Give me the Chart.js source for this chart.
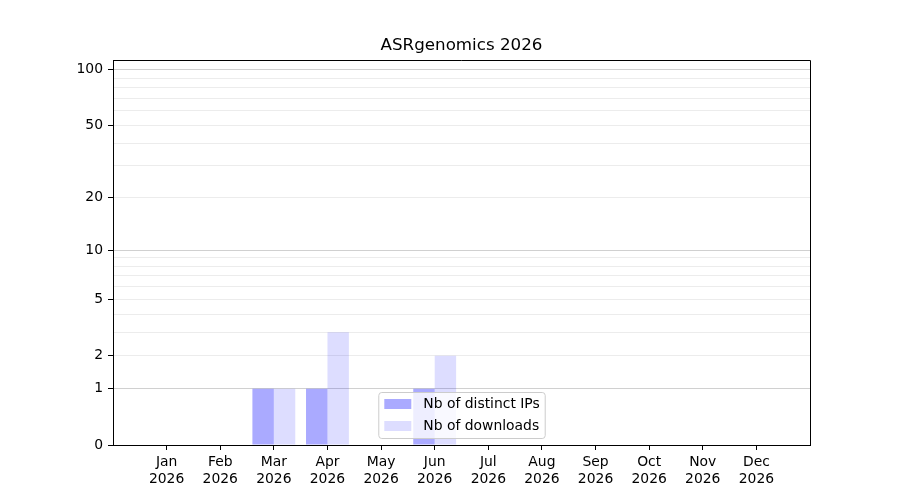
<!DOCTYPE html>
<html>
<head>
<meta charset="utf-8">
<script src="https://cdn.jsdelivr.net/npm/chart.js@4.4.1/dist/chart.umd.min.js"></script>
<style>
  html, body { margin: 0; padding: 0; background: #fff; }
  #wrap { width: 900px; height: 500px; position: relative; }
</style>
</head>
<body>
<div id="wrap"><canvas id="chart"></canvas></div>
<script>
// --- data ---
const months = ["Jan", "Feb", "Mar", "Apr", "May", "Jun", "Jul", "Aug", "Sep", "Oct", "Nov", "Dec"];
const year = "2026";
const distinctIPs = [0, 0, 1, 1, 0, 1, 0, 0, 0, 0, 0, 0];
const downloads   = [0, 0, 1, 3, 0, 2, 0, 0, 0, 0, 0, 0];
const titleText = "ASRgenomics 2026";

// y axis: log(1 + x) scale
const yTicks = [0, 1, 2, 3, 4, 5, 6, 7, 8, 9, 10, 20, 30, 40, 50, 60, 70, 80, 90, 100];
const yLabelled = [0, 1, 2, 5, 10, 20, 50, 100];
const yMajor = [1, 10, 100];
const yMax = 113;

Chart.defaults.font.family = "'DejaVu Sans', sans-serif";
Chart.defaults.color = "#000";

// custom scale so bars go through log10(1 + v)
class Log1pScale extends Chart.LinearScale {
  static id = "log1p";
  static defaults = {};
  buildTicks() {
    return yTicks.map(v => ({ value: v }));
  }
  configure() {
    super.configure();
    this._lo = Math.log10(1 + this.min);
    this._hi = Math.log10(1 + this.max);
  }
  getPixelForValue(value) {
    return this.getPixelForDecimal((Math.log10(1 + value) - this._lo) / (this._hi - this._lo));
  }
  getValueForPixel(pixel) {
    return Math.pow(10, this._lo + this.getDecimalForPixel(pixel) * (this._hi - this._lo)) - 1;
  }
}
Chart.register(Log1pScale);

// empty slot each side so the axis runs one month past Jan and Dec
const labels = ["", ...months.map(m => [m, year]), ""];
const pad = arr => [null, ...arr, null];

// title over the plot, top/right frame, legend inside lower centre
const framePlugin = {
  id: "frameAndLegend",
  afterDraw(chart) {
    const { ctx, chartArea: a } = chart;
    ctx.save();
    ctx.strokeStyle = "#000";
    ctx.lineWidth = 1;
    ctx.beginPath();
    ctx.moveTo(a.left, a.top + 0.5);
    ctx.lineTo(a.right + 0.5, a.top + 0.5);
    ctx.lineTo(a.right + 0.5, a.bottom);
    ctx.stroke();

    ctx.fillStyle = "#000";
    ctx.font = "16.7px 'DejaVu Sans'";
    ctx.textAlign = "center";
    ctx.textBaseline = "middle";
    ctx.fillText(titleText, (a.left + a.right) / 2, 46);

    ctx.font = "13.9px 'DejaVu Sans'";
    const sets = chart.data.datasets;
    const textW = Math.max(...sets.map(d => ctx.measureText(d.label).width));
    const w = 6 + 27 + 12 + textW + 5;
    const h = 46;
    const x = (a.left + a.right) / 2 - w / 2;
    const y = a.bottom - 7 - h;
    ctx.beginPath();
    ctx.roundRect(x + 0.5, y + 0.5, w, h, 3);
    ctx.fillStyle = "rgba(255,255,255,0.8)";
    ctx.fill();
    ctx.strokeStyle = "#cccccc";
    ctx.stroke();
    sets.forEach((d, i) => {
      const cy = y + 12 + i * 22;
      ctx.fillStyle = d.backgroundColor;
      ctx.fillRect(x + 6, cy - 5, 27, 10);
      ctx.fillStyle = "#000";
      ctx.textBaseline = "middle";
      ctx.textAlign = "left";
      ctx.fillText(d.label, x + 45, cy);
    });
    ctx.restore();
  }
};

new Chart(document.getElementById("chart"), {
  type: "bar",
  data: {
    labels: labels,
    datasets: [
      {
        label: "Nb of distinct IPs",
        data: pad(distinctIPs),
        backgroundColor: "rgba(0,0,255,0.333)",
        borderWidth: 0
      },
      {
        label: "Nb of downloads",
        data: pad(downloads),
        backgroundColor: "rgba(0,0,255,0.133)",
        borderWidth: 0
      }
    ]
  },
  options: {
    responsive: true,
    maintainAspectRatio: false,
    animation: false,
    datasets: { bar: { categoryPercentage: 0.8, barPercentage: 1.0 } },
    layout: { padding: { left: 0, right: 90, top: 60, bottom: 0 } },
    plugins: {
      legend: { display: false },
      tooltip: { enabled: false },
      title: { display: false }
    },
    scales: {
      x: {
        type: "category",
        offset: false,
        afterBuildTicks: s => { s.ticks = s.ticks.filter(t => t.value >= 1 && t.value <= months.length); },
        afterFit: s => { s.height = 55; },
        grid: { offset: false, drawOnChartArea: false, tickLength: 5, tickColor: "#000", tickWidth: 1 },
        border: { color: "#000", width: 1 },
        ticks: { autoSkip: false, maxRotation: 0, padding: 4, font: { size: 13.9 }, color: "#000" }
      },
      y: {
        type: "log1p",
        min: 0,
        max: yMax,
        afterFit: s => { s.width = 113; },
        grid: {
          color: c => c.tick.value === 0 ? "rgba(0,0,0,0)" : (yMajor.includes(c.tick.value) ? "#d0d0d0" : "#ececec"),
          lineWidth: 1,
          tickLength: 5,
          tickWidth: 1,
          tickColor: c => yLabelled.includes(c.tick.value) ? "#000" : "rgba(0,0,0,0)"
        },
        border: { color: "#000", width: 1 },
        ticks: {
          autoSkip: false,
          padding: 5,
          font: { size: 13.9 },
          color: "#000",
          callback: v => yLabelled.includes(v) ? String(v) : ""
        }
      }
    }
  },
  plugins: [framePlugin]
});
</script>
</body>
</html>
